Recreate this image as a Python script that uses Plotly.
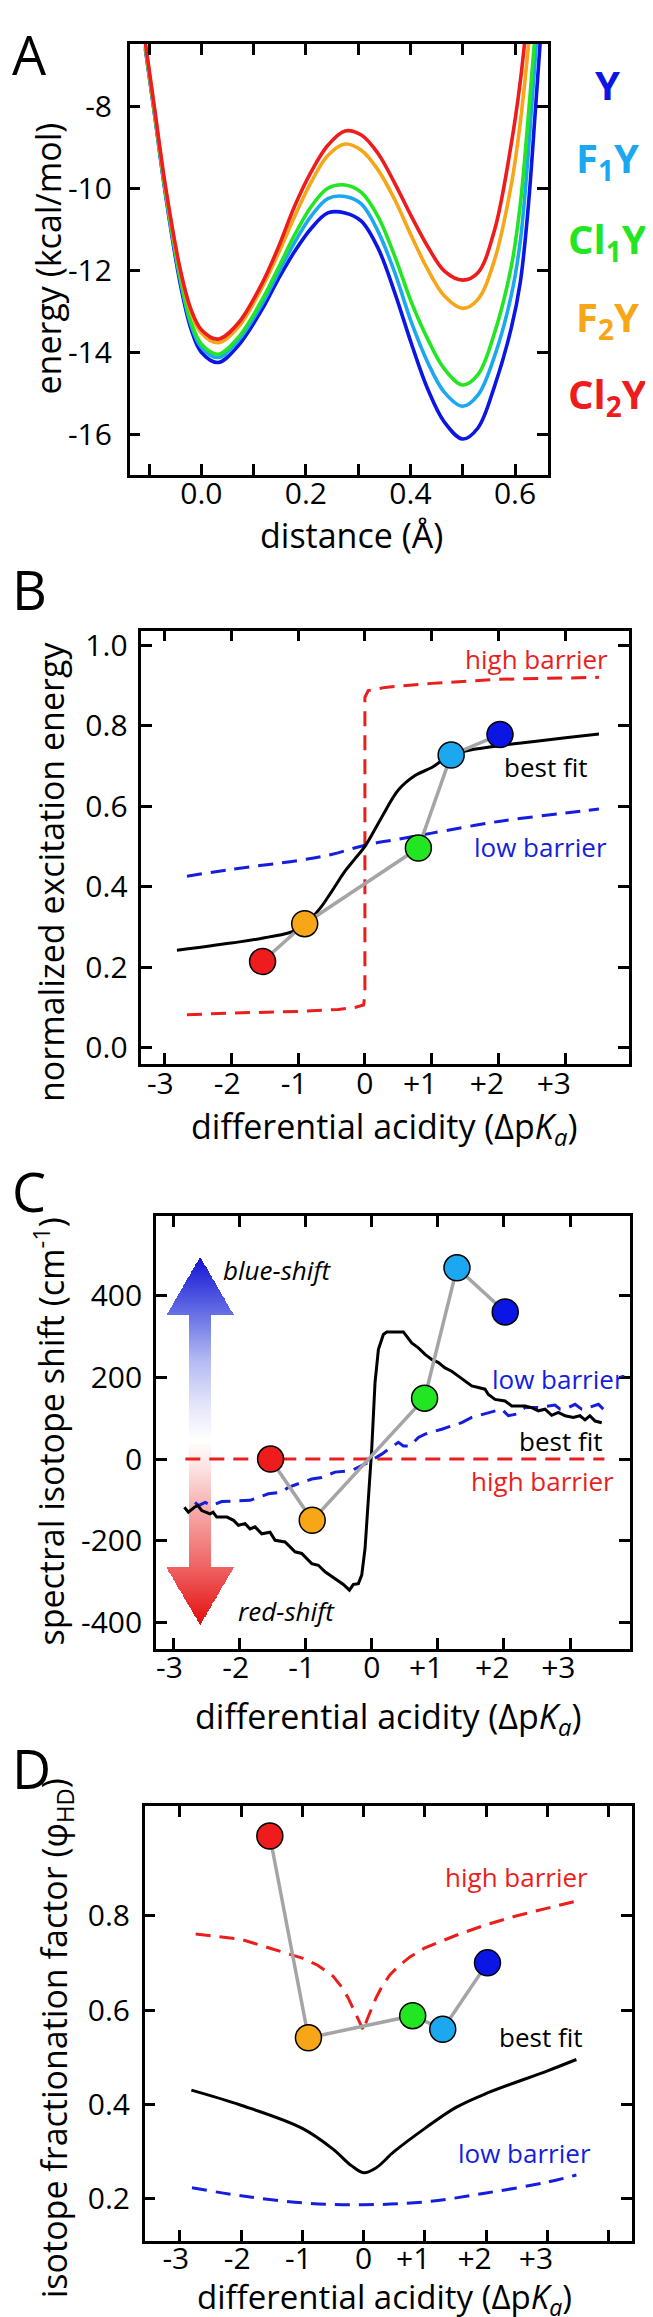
import numpy as np
import plotly.graph_objects as go

W, H = 653, 2317
FONT = "Open Sans"

RED = "rgb(238,28,28)"
ORANGE = "rgb(247,166,24)"
GREEN = "rgb(34,230,34)"
LBLUE = "rgb(28,168,240)"
BLUE = "rgb(12,22,228)"
DRED = "rgb(235,30,30)"
DBLUE = "rgb(20,30,220)"
GREY = "rgb(165,165,165)"

# ---------------- Panel A: potential energy curves ----------------
species = ["Y", "F<sub>1</sub>Y", "Cl<sub>1</sub>Y", "F<sub>2</sub>Y", "Cl<sub>2</sub>Y"]
species_colors = [BLUE, LBLUE, GREEN, ORANGE, RED]
distance = [-0.107, -0.09, -0.068, -0.04, -0.02, 0.0, 0.032, 0.07, 0.115, 0.147, 0.178, 0.21,
            0.242, 0.275, 0.306, 0.338, 0.37, 0.402, 0.433, 0.465, 0.50, 0.529, 0.561, 0.593,
            0.61, 0.625, 0.64, 0.655]
energy_Y = [-6.6, -8.15, -10.2, -12.35, -13.42, -14.0, -14.25, -13.85, -12.98, -12.22, -11.55, -10.98,
            -10.6, -10.6, -10.8, -11.46, -12.55, -13.8, -14.9, -15.71, -16.12, -15.85, -14.82, -13.4,
            -12.3, -10.5, -7.9, -5.2]
energy_F1Y = [-6.55, -8.12, -10.15, -12.25, -13.32, -13.88, -14.13, -13.72, -12.85, -12.07, -11.33, -10.68,
              -10.25, -10.2, -10.38, -11.05, -12.06, -13.28, -14.25, -14.98, -15.32, -15.05, -14.09, -12.6,
              -11.3, -9.2, -6.6, -4.5]
energy_Cl1Y = [-6.55, -8.1, -10.12, -12.2, -13.25, -13.8, -14.05, -13.65, -12.75, -11.95, -11.15, -10.45,
               -10.0, -9.92, -10.1, -10.69, -11.66, -12.79, -13.68, -14.41, -14.8, -14.55, -13.52, -11.9,
               -10.4, -8.3, -6.0, -3.8]
energy_F2Y = [-6.5, -8.05, -10.05, -12.05, -13.02, -13.53, -13.77, -13.4, -12.45, -11.6, -10.7, -9.85,
              -9.2, -8.92, -9.07, -9.55, -10.28, -11.17, -11.98, -12.63, -12.93, -12.71, -11.74, -9.9,
              -8.4, -6.6, -4.5, -2.0]
energy_Cl2Y = [-6.45, -8.0, -10.0, -12.0, -12.95, -13.45, -13.68, -13.3, -12.35, -11.45, -10.45, -9.6,
               -8.95, -8.6, -8.7, -9.15, -9.88, -10.69, -11.42, -12.02, -12.24, -12.06, -11.01, -8.9,
               -7.4, -5.6, -3.5, -1.0]
energies = [energy_Y, energy_F1Y, energy_Cl1Y, energy_F2Y, energy_Cl2Y]

# ---------------- shared experimental points (B, C, D) ----------------
dpka = [-1.53, -0.90, 0.80, 1.29, 2.02]
point_colors = [RED, ORANGE, GREEN, LBLUE, BLUE]
excitation = [0.214, 0.308, 0.496, 0.727, 0.778]
isotope_shift = [0, -150, 149, 468, 360]
fractionation = [0.969, 0.541, 0.588, 0.559, 0.70]

# ---------------- Panel B model curves ----------------
B_high_x = [-2.66, -2.0, -1.0, -0.4, -0.15, -0.02, 0.0, 0.0, 0.05, 0.3, 1.0, 2.0, 3.5]
B_high_y = [0.082, 0.086, 0.09, 0.095, 0.1, 0.106, 0.13, 0.87, 0.887, 0.895, 0.905, 0.915, 0.92]
B_low_x = [-2.66, -2.0, -1.0, -0.5, 0.0, 0.5, 1.0, 2.0, 3.0, 3.5]
B_low_y = [0.426, 0.443, 0.465, 0.48, 0.503, 0.518, 0.533, 0.562, 0.583, 0.593]
B_fit_x = [-2.81, -2.0, -1.5, -1.0, -0.7, -0.5, -0.3, -0.15, 0.0, 0.25, 0.5, 0.75, 1.0, 1.3, 2.0, 2.5, 3.0, 3.5]
B_fit_y = [0.242, 0.26, 0.273, 0.294, 0.34, 0.387, 0.438, 0.469, 0.50, 0.572, 0.64, 0.676, 0.696, 0.728, 0.75, 0.76, 0.77, 0.779]

# ---------------- Panel C model curves ----------------
C_high_x = [-2.82, 3.52]
C_high_y = [0, 0]
C_fit_x = [-2.834, -2.774, -2.683, -2.63, -2.572, -2.446, -2.4, -2.345, -2.19, -2.09, -2.017, -1.916,
           -1.84, -1.765, -1.664, -1.538, -1.462, -1.311, -1.16, -1.059, -0.908, -0.807, -0.706, -0.605,
           -0.504, -0.429, -0.338, -0.277, -0.202, -0.151, -0.101, -0.05, 0.0, 0.05, 0.101, 0.176, 0.227,
           0.479, 0.555, 0.605, 0.706, 0.807, 0.908, 1.009, 1.109, 1.21, 1.311, 1.412, 1.513, 1.614,
           1.714, 1.765, 1.866, 2.017, 2.118, 2.32, 2.42, 2.52, 2.622, 2.723, 2.824, 2.925, 3.05, 3.15,
           3.227, 3.3, 3.38, 3.48]
C_fit_y = [-118, -130, -118, -114, -126, -134, -130, -142, -142, -150, -162, -158,
           -171, -166, -183, -179, -199, -203, -227, -231, -256, -260, -276, -288,
           -300, -307, -321, -307, -305, -284, -219, -97, 24, 187, 268, 305, 311,
           311, 296, 284, 272, 256, 244, 236, 223, 215, 203, 191, 179, 175,
           171, 158, 146, 142, 130, 130, 126, 118, 122, 107, 114, 106, 102, 106,
           96, 106, 93, 89]
C_low_x = [-2.673, -2.62, -2.52, -2.42, -2.27, -1.967, -1.84, -1.563, -1.362, -1.261, -1.059, -0.908,
           -0.756, -0.555, -0.303, -0.05, 0.151, 0.252, 0.403, 0.479, 0.58, 0.706, 0.807, 1.059, 1.362,
           1.513, 1.967, 2.067, 2.19, 2.32, 2.52, 2.773, 2.85, 2.975, 3.076, 3.177, 3.278, 3.43, 3.505]
C_low_y = [-106, -114, -106, -114, -104, -101, -101, -85, -81, -69, -57, -49,
           -45, -32, -28, -8, 12, 24, 41, 32, 32, 53, 61, 73, 89,
           102, 122, 106, 110, 126, 126, 132, 122, 126, 134, 122, 126, 134, 122]

# ---------------- Panel D model curves ----------------
D_high_x = [-2.74, -2.0, -1.5, -1.0, -0.75, -0.5, -0.36, -0.25, -0.16, -0.08, 0.0, 0.05, 0.11, 0.2,
            0.3, 0.43, 0.57, 0.75, 1.0, 1.5, 2.0, 2.5, 3.0, 3.47]
D_high_y = [0.761, 0.75, 0.73, 0.71, 0.695, 0.672, 0.649, 0.625, 0.60, 0.578, 0.556, 0.578, 0.596, 0.625,
            0.65, 0.675, 0.693, 0.712, 0.732, 0.758, 0.781, 0.80, 0.816, 0.831]
D_fit_x = [-2.81, -2.0, -1.0, -0.5, -0.2, 0.0, 0.2, 0.5, 1.0, 1.5, 2.0, 3.0, 3.47]
D_fit_y = [0.430, 0.398, 0.349, 0.305, 0.27, 0.255, 0.265, 0.30, 0.349, 0.393, 0.423, 0.471, 0.495]
D_low_x = [-2.8, -2.0, -1.0, 0.0, 1.0, 2.0, 3.0, 3.47]
D_low_y = [0.223, 0.206, 0.191, 0.187, 0.193, 0.212, 0.235, 0.25]

# tick labels (non-breaking spaces nudge the signed labels like the original)
NB = "\u00a0"
dpka_ticks = [-3, -2, -1, 0, 1, 2, 3]
dpka_ticktext = ["-3" + NB, "-2" + NB, "-1" + NB, "0", "+1" + NB * 3, "+2" + NB * 3, "+3" + NB * 3]

TICK = 30
TITLE = 34
LABEL = 26
XSTAND = -9

# ---------------- figure ----------------
fig = go.Figure()

def px2paper(x, y):
    return x / W, 1 - y / H

def dom(left, right, top, bottom):
    return [left / W, right / W], [1 - bottom / H, 1 - top / H]

# Panel A
for name, ys, col in zip(species, energies, species_colors):
    fig.add_trace(go.Scatter(x=distance, y=ys, mode="lines", line=dict(color=col, width=3.6, shape="spline"),
                             xaxis="x", yaxis="y", hoverinfo="skip"))

# Panel B
fig.add_trace(go.Scatter(x=B_high_x, y=B_high_y, mode="lines", line=dict(color=DRED, width=3, dash="15px,9px"),
                         xaxis="x2", yaxis="y2"))
fig.add_trace(go.Scatter(x=B_low_x, y=B_low_y, mode="lines",
                         line=dict(color=DBLUE, width=3, dash="15px,9px", shape="spline"), xaxis="x2", yaxis="y2"))
fig.add_trace(go.Scatter(x=B_fit_x, y=B_fit_y, mode="lines", line=dict(color="black", width=3, shape="spline"),
                         xaxis="x2", yaxis="y2"))

# Panel C gradient arrow (decoration) as masked heatmap
xc, shaft_hw, head_hw = -2.597, 0.165, 0.505
top_tip, top_base, bot_base, bot_tip = 495, 353, -266, -406
gx = np.arange(-3.12, -2.07, 0.008)
gy = np.arange(-410, 500, 2.0)
GX, GY = np.meshgrid(gx, gy)
dx = np.abs(GX - xc)
mask = ((dx <= shaft_hw) & (GY >= bot_base) & (GY <= top_base)) | \
       ((GY >= top_base) & (GY <= top_tip) & (dx <= head_hw * (top_tip - GY) / (top_tip - top_base))) | \
       ((GY <= bot_base) & (GY >= bot_tip) & (dx <= head_hw * (GY - bot_tip) / (bot_base - bot_tip)))
gz = np.where(mask, GY, np.nan)
arrow_scale = [[0.0, "rgb(226,14,14)"], [0.16, "rgb(240,100,100)"], [0.3, "rgb(246,165,165)"],
               [0.42, "rgb(252,224,224)"], [0.5, "rgb(255,255,255)"], [0.6, "rgb(228,228,250)"],
               [0.72, "rgb(180,185,242)"], [0.84, "rgb(105,115,230)"], [1.0, "rgb(18,18,212)"]]
fig.add_trace(go.Heatmap(x=gx, y=gy, z=gz, colorscale=arrow_scale, zmin=bot_tip, zmax=top_tip,
                         showscale=False, hoverinfo="skip", xaxis="x3", yaxis="y3"))
fig.add_trace(go.Scatter(x=C_high_x, y=C_high_y, mode="lines", line=dict(color=DRED, width=3, dash="15px,9px"),
                         xaxis="x3", yaxis="y3"))
fig.add_trace(go.Scatter(x=C_low_x, y=C_low_y, mode="lines", line=dict(color=DBLUE, width=3, dash="15px,9px"),
                         xaxis="x3", yaxis="y3"))
fig.add_trace(go.Scatter(x=C_fit_x, y=C_fit_y, mode="lines", line=dict(color="black", width=3),
                         xaxis="x3", yaxis="y3"))

# Panel D
fig.add_trace(go.Scatter(x=D_high_x, y=D_high_y, mode="lines", line=dict(color=DRED, width=3, dash="15px,9px"),
                         xaxis="x4", yaxis="y4"))
fig.add_trace(go.Scatter(x=D_low_x, y=D_low_y, mode="lines",
                         line=dict(color=DBLUE, width=3, dash="15px,9px", shape="spline"), xaxis="x4", yaxis="y4"))
fig.add_trace(go.Scatter(x=D_fit_x, y=D_fit_y, mode="lines", line=dict(color="black", width=3, shape="spline"),
                         xaxis="x4", yaxis="y4"))

# experimental points with grey connectors
for vals, xa, ya in [(excitation, "x2", "y2"), (isotope_shift, "x3", "y3"), (fractionation, "x4", "y4")]:
    fig.add_trace(go.Scatter(x=dpka, y=vals, mode="lines", line=dict(color=GREY, width=3.5),
                             xaxis=xa, yaxis=ya, hoverinfo="skip"))
    fig.add_trace(go.Scatter(x=dpka, y=vals, mode="markers",
                             marker=dict(size=26, color=point_colors, line=dict(color="black", width=1.5)),
                             xaxis=xa, yaxis=ya, hoverinfo="skip"))

axis_common = dict(showline=True, linecolor="black", linewidth=2.5, mirror="ticks", ticks="inside",
                   ticklen=11, tickwidth=2.5, tickcolor="black", showgrid=False, zeroline=False,
                   tickmode="array", tickfont=dict(family=FONT, size=TICK, color="black"))

xdA, ydA = dom(121.7, 539.6, 29.2, 461.7)
xdB, ydB = dom(133.3, 620.8, 618.3, 1053.75)
xdC, ydC = dom(147.9, 621.7, 1206.7, 1640.8)
xdD, ydD = dom(136.7, 623.75, 1798.6, 2235.7)

fig.update_layout(
    width=W, height=H, margin=dict(l=0, r=0, t=0, b=0),
    paper_bgcolor="white", plot_bgcolor="white", showlegend=False,
    font=dict(family=FONT, color="black"),
    xaxis=dict(axis_common, domain=xdA, anchor="y", range=[-0.137, 0.6623],
               tickvals=[-0.1, 0.0, 0.1, 0.2, 0.3, 0.4, 0.5, 0.6],
               ticktext=["", "0.0", "", "0.2", "", "0.4", "", "0.6"], ticklabelstandoff=XSTAND),
    yaxis=dict(axis_common, domain=ydA, anchor="x", range=[-16.99, -6.48],
               tickvals=[-16, -14, -12, -10, -8], ticktext=["-16", "-14", "-12", "-10", "-8"],
               ticklabelstandoff=9),
    xaxis2=dict(axis_common, domain=xdB, anchor="y2", range=[-3.343, 3.946],
                tickvals=dpka_ticks, ticktext=dpka_ticktext, ticklabelstandoff=XSTAND),
    yaxis2=dict(axis_common, domain=ydB, anchor="x2", range=[-0.041, 1.036],
                tickvals=[0, 0.2, 0.4, 0.6, 0.8, 1.0], ticktext=["0.0", "0.2", "0.4", "0.6", "0.8", "1.0"],
                ticklabelstandoff=5),
    xaxis3=dict(axis_common, domain=xdC, anchor="y3", range=[-3.265, 3.903],
                tickvals=dpka_ticks, ticktext=dpka_ticktext, ticklabelstandoff=XSTAND),
    yaxis3=dict(axis_common, domain=ydC, anchor="x3", range=[-464.2, 593.6],
                tickvals=[-400, -200, 0, 200, 400], ticktext=["-400", "-200", "0", "200", "400"],
                ticklabelstandoff=5),
    xaxis4=dict(axis_common, domain=xdD, anchor="y4", range=[-3.571, 4.373],
                tickvals=dpka_ticks + [4], ticktext=dpka_ticktext + [""], ticklabelstandoff=-11),
    yaxis4=dict(axis_common, domain=ydD, anchor="x4", range=[0.11, 1.033],
                tickvals=[0.2, 0.4, 0.6, 0.8], ticktext=["0.2", "0.4", "0.6", "0.8"], ticklabelstandoff=6),
)

annotations = []

def paper_text(text, x, y, size, color="black", angle=0, xanchor="center", yanchor="middle"):
    px, py = px2paper(x, y)
    annotations.append(dict(text=text, x=px, y=py, xref="paper", yref="paper", showarrow=False,
                            textangle=angle, xanchor=xanchor, yanchor=yanchor,
                            font=dict(family=FONT, size=size, color=color)))

def data_text(text, x, y, xa, ya, size=LABEL, color="black"):
    annotations.append(dict(text=text, x=x, y=y, xref=xa, yref=ya, showarrow=False,
                            xanchor="center", yanchor="middle",
                            font=dict(family=FONT, size=size, color=color)))

# panel letters
paper_text("A", 2, 0, 54, xanchor="left", yanchor="top")
for letter, yy in [("B", 576), ("C", 1181), ("D", 1761)]:
    paper_text(letter, 2, yy, 54, xanchor="left")

# species labels (panel A)
for name, col, yy in zip(species, species_colors, [70, 145, 226, 305, 382]):
    paper_text("<b>" + name + "</b>", 599, yy, 40, color=col)

# axis titles
acid = "differential acidity (Δp<i>K</i><sub><i>a</i></sub>)"
paper_text("distance (Å)", 343, 522, TITLE)
paper_text("energy (kcal/mol)", 39.6, 245, TITLE, angle=-90)
paper_text(acid, 376, 1118, TITLE)
paper_text("normalized excitation energy", 43.7, 861, TITLE, angle=-90)
paper_text(acid, 380, 1710, TITLE)
paper_text("spectral isotope shift (cm<sup>-1</sup>)", 41.7, 1423, TITLE, angle=-90)
paper_text(acid, 376, 2293, 33)
paper_text("isotope fractionation factor (φ<sub>HD</sub>)", 48, 2032, TITLE, angle=-90)

# in-panel labels
data_text("high barrier", 2.57, 0.966, "x2", "y2", color=DRED)
data_text("best fit", 2.71, 0.698, "x2", "y2")
data_text("low barrier", 2.62, 0.498, "x2", "y2", color=DBLUE)

data_text("<i>blue-shift</i>", -1.427, 463, "x3", "y3")
data_text("<i>red-shift</i>", -1.29, -372, "x3", "y3")
data_text("low barrier", 2.82, 197, "x3", "y3", color=DBLUE)
data_text("best fit", 2.87, 44, "x3", "y3")
data_text("high barrier", 2.59, -53, "x3", "y3", color=DRED)

data_text("high barrier", 2.50, 0.882, "x4", "y4", color=DRED)
data_text("best fit", 2.89, 0.543, "x4", "y4")
data_text("low barrier", 2.62, 0.297, "x4", "y4", color=DBLUE)

fig.update_layout(annotations=annotations)

fig.write_html("out.html")
